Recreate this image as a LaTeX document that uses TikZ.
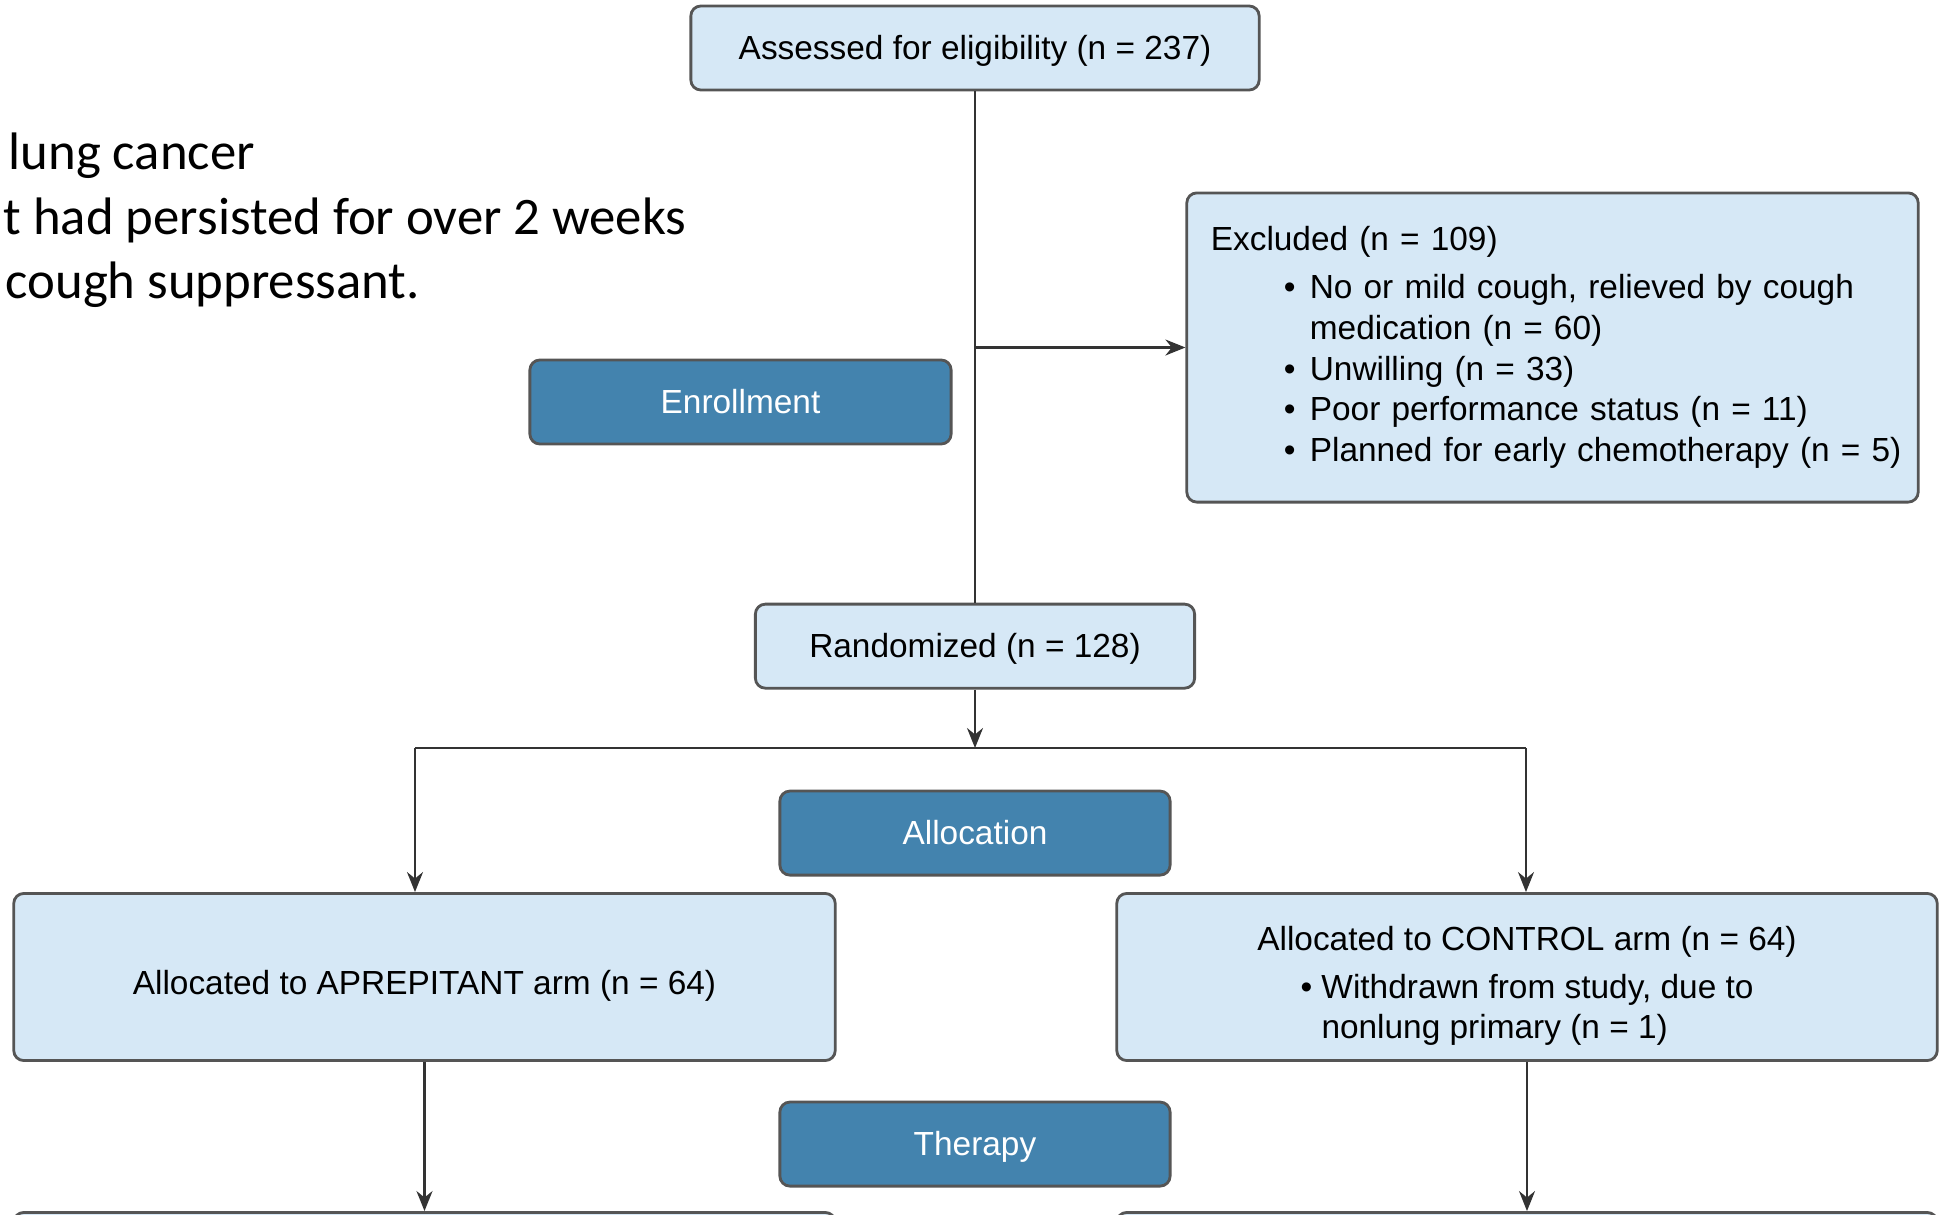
\documentclass[tikz,border=0pt]{standalone}
\usepackage{fontspec}
\setmainfont{Liberation Sans}
\newfontfamily\calibri{Carlito}
\usetikzlibrary{positioning,arrows.meta}
\definecolor{boxlight}{RGB}{214,232,246}
\definecolor{boxdark}{RGB}{67,131,174}
\definecolor{boxline}{RGB}{85,85,85}
\newcommand{\xitem}[1]{\mbox{\hspace*{0.73cm}\makebox[0.26cm][l]{\textbullet}#1}}

\begin{document}
\begin{tikzpicture}[x = 0.01cm, y = 0.01cm,
    lightbox/.style = {draw = boxline, line width = 0.8pt, fill = boxlight, rounded corners = 0.1cm,
      align = center, inner sep = 0pt, font = \fontsize{9.5}{11.6}\selectfont},
    oneline/.style = {text height = 6.55pt, text depth = 0pt},
    darkbox/.style = {lightbox, oneline, fill = boxdark, text = white, minimum height = 0.84cm},
    conn/.style = {draw = black!80, line width = 0.6pt},
    arr/.style = {conn, -{Stealth[length = 0.2cm, width = 0.16cm]}}]

    \useasboundingbox (0,0) rectangle (1939,-1215);
    \clip (0,0) rectangle (1939,-1215);

    \node[anchor = base west, inner sep = 0pt, font = \calibri\fontsize{15}{18.3}\selectfont] (n1) at (8,-169) {lung cancer};
    \node[anchor = base west, inner sep = 0pt, font = \calibri\fontsize{15}{18.3}\selectfont] (n2) at (3,-234) {t had persisted for over 2 weeks};
    \node[anchor = base west, inner sep = 0pt, font = \calibri\fontsize{15}{18.3}\selectfont] (n3) at (5,-298) {cough suppressant.};

    \node[lightbox, oneline, minimum width = 5.68cm, minimum height = 0.84cm] (a) at (975,-48) {Assessed for eligibility (n = 237)};
    \node[lightbox, oneline, minimum width = 4.39cm, minimum height = 0.84cm, below = 5.11cm of a] (r) {Randomized (n = 128)};
    \node[darkbox, minimum width = 3.90cm, below = 1.00cm of r] (alloc) {Allocation};
    \node[darkbox, minimum width = 3.90cm, below = 2.24cm of alloc] (ther) {Therapy};
    \node[darkbox, minimum width = 4.21cm] (enr) at (740.5,-402) {Enrollment};

    \node[lightbox, align = left, text width = 6.83cm, inner xsep = 0.24cm, minimum height = 3.09cm] (excl) at (1552.5,-347.5)
      {Excluded (n = 109)\\[2pt]
       \xitem{No or mild cough, relieved by cough}\\
       \mbox{\hspace*{0.99cm}medication (n = 60)}\\
       \xitem{Unwilling (n = 33)}\\
       \xitem{Poor performance status (n = 11)}\\
       \xitem{Planned for early chemotherapy (n = 5)}};

    \node[lightbox, text height = 9.95pt, text depth = 0pt, minimum width = 8.21cm, minimum height = 1.67cm] (apr) at (424.5,-977)
      {Allocated to APREPITANT arm (n = 64)};
    \node[lightbox, minimum width = 8.20cm, minimum height = 1.67cm] (ctl) at (1527,-977)
      {\rule{0pt}{13.5pt}Allocated to CONTROL arm (n = 64)\\[2pt]
       \begin{tabular}[t]{@{}l@{}l@{}}
         \makebox[0.21cm][l]{\textbullet} & Withdrawn from study, due to\\
         & nonlung primary (n = 1)
       \end{tabular}};
    \node[lightbox, minimum width = 8.21cm, minimum height = 1.67cm, below = 1.49cm of apr] (apr2) {};
    \node[lightbox, minimum width = 8.20cm, minimum height = 1.67cm, below = 1.49cm of ctl] (ctl2) {};

    \coordinate (split) at (975,-748);
    \coordinate (sl) at (415,-748);
    \coordinate (sr) at (1526,-748);

    \draw[conn] (a) -- (r);
    \draw[arr] (a.south |- excl.west) -- (excl.west);
    \draw[arr] (r) -- (split);
    \draw[conn] (sl) -- (sr);
    \draw[arr] (sl) -- (sl |- apr.north);
    \draw[arr] (sr) -- (sr |- ctl.north);
    \draw[arr] (apr) -- (apr2);
    \draw[arr] (ctl) -- (ctl2);
\end{tikzpicture}
\end{document}
